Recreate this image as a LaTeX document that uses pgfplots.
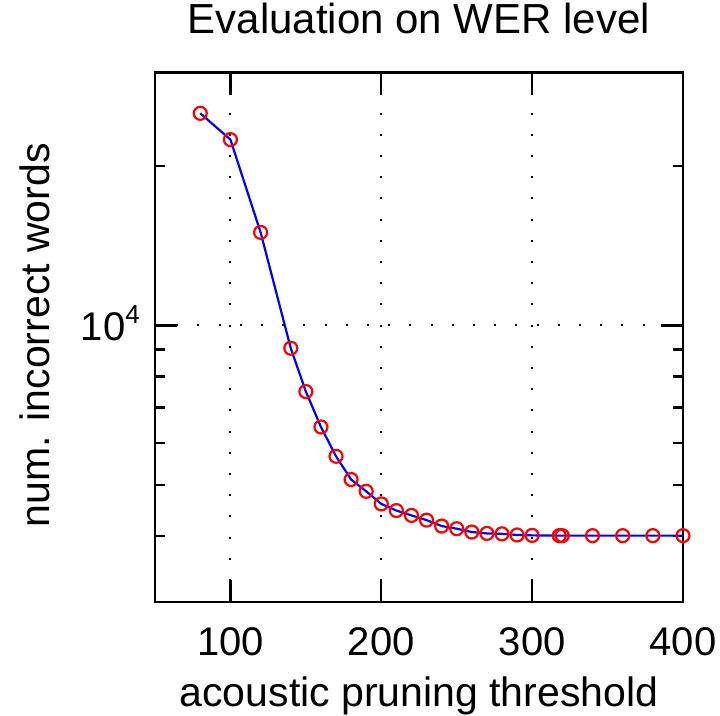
\documentclass[border=0pt]{standalone}
\usepackage{fontspec}
\setmainfont{Liberation Sans}
\usepackage{pgfplots}
\pgfplotsset{compat=1.18}
\newcommand{\bigfont}{\fontsize{40}{48}\selectfont}
\begin{document}
\begin{tikzpicture}
\begin{axis}[name=ax, scale only axis, width=528pt, height=529.6pt,
  ymode=log, log basis y=10,
  xmin=50, xmax=400, ymin=3000, ymax=30000,
  xtick={100,200,300,400}, ytick={10000}, yticklabels={10\raisebox{17pt}{\fontsize{26}{26}\selectfont 4}},
  minor ytick={4000,5000,6000,7000,8000,9000,20000}, minor xtick={},
  /pgf/number format/assume math mode=true,
  axis line style={line width=2.4pt},
  tick align=inside, major tick length=22pt, minor tick length=10pt,
  every tick/.style={black, line width=2.4pt},
  xmajorgrids, ymajorgrids,
  major grid style={black, line width=2pt, dash pattern=on 2pt off 19.2pt},
  tick label style={font=\bigfont, inner sep=0pt},
  xticklabel style={anchor=base, yshift=-53.7pt},
  yticklabel style={anchor=base east, xshift=-15pt, yshift=-15pt},
  title={Evaluation on WER level},
  title style={font=\fontsize{42}{50}\selectfont, at={(rel axis cs:0.5,1)}, anchor=base, yshift=33.4pt, inner sep=0pt},
  xlabel={acoustic pruning threshold},
  xlabel style={font=\fontsize{41}{49}\selectfont, at={(rel axis cs:0.5,0)}, anchor=base, yshift=-104.7pt, inner sep=0pt},
  ylabel={num. incorrect words},
  ylabel style={font=\fontsize{41}{49}\selectfont, at={(rel axis cs:0,0.504)}, anchor=base, yshift=105pt, inner sep=0pt},
  clip=false]
\addplot[blue, line width=2.2pt, mark=o, mark size=6.5pt, mark options={draw=red, line width=2.2pt}] coordinates {
(80,25140) (100,22430) (120,14980) (140,9055) (150,7500) (160,6430) (170,5660)
(180,5116) (190,4860) (200,4601) (210,4470) (220,4377) (230,4288) (240,4179)
(250,4131) (260,4072) (270,4047) (280,4040) (290,4020) (300,4013) (318,4008)
(320,4008) (340,4008) (360,4008) (380,4008) (400,4008)};
\end{axis}
\path ([shift={(-155pt,-112.7pt)}]ax.south west) rectangle ([shift={(37pt,72.7pt)}]ax.north east);
\end{tikzpicture}
\end{document}
